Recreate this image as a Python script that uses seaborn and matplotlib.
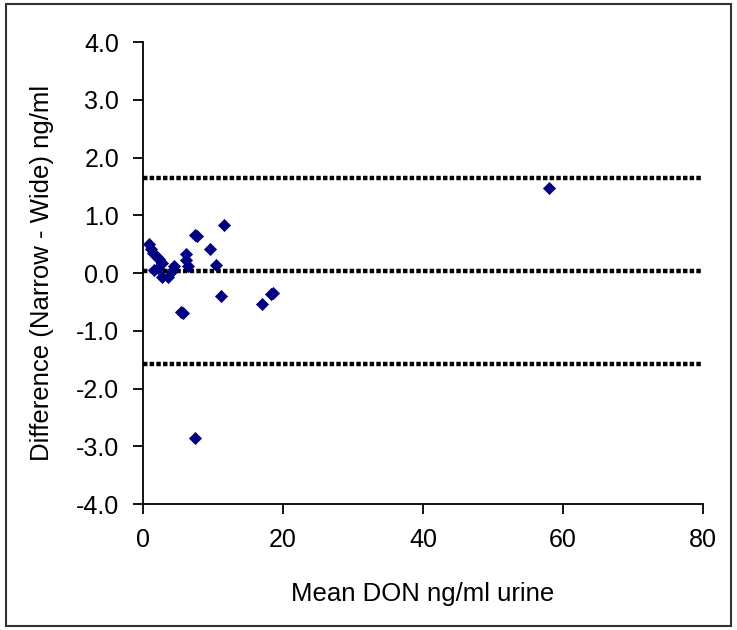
import matplotlib
matplotlib.use('Agg')
import matplotlib.pyplot as plt
import matplotlib.patches as patches
import seaborn as sns
import pandas as pd

sns.set_style('ticks')
plt.rcParams['font.family'] = ['Liberation Sans', 'DejaVu Sans']
plt.rcParams['text.color'] = 'black'
plt.rcParams['axes.labelcolor'] = 'black'
plt.rcParams['xtick.color'] = 'black'
plt.rcParams['ytick.color'] = 'black'

# Bland-Altman data
mean_don = [0.9, 1.1, 1.4, 2.0, 2.3, 2.7, 1.6, 2.2, 2.7, 3.6, 4.2, 4.5,
            6.1, 6.2, 6.4, 7.4, 7.7, 5.5, 5.7, 9.6, 10.4, 11.6, 11.2,
            17.0, 18.6, 18.3, 7.4, 58.0]
difference = [0.51, 0.41, 0.34, 0.28, 0.24, 0.17, 0.06, 0.08, -0.06, -0.06,
              0.04, 0.12, 0.33, 0.22, 0.12, 0.66, 0.64, -0.67, -0.69, 0.41,
              0.14, 0.83, -0.40, -0.54, -0.34, -0.37, -2.86, 1.47]
mean_diff = 0.04
upper_loa = 1.65
lower_loa = -1.57

x_ticks = [0, 20, 40, 60, 80]
y_ticks = [-4, -3, -2, -1, 0, 1, 2, 3, 4]

df = pd.DataFrame({'Mean DON': mean_don, 'Difference': difference})

fig = plt.figure(figsize=(7.37, 6.3), dpi=100)
ax = fig.add_axes([0.194, 0.2, 0.76, 0.733])

for level in (upper_loa, mean_diff, lower_loa):
    ax.axhline(level, color='black', lw=3.2, linestyle=(0, (1.0, 0.5)), zorder=1)

sns.scatterplot(data=df, x='Mean DON', y='Difference', marker='D', s=38,
                color='#000080', edgecolor='#000080', linewidth=0.5,
                ax=ax, zorder=3)

ax.set_xlim(0, 80)
ax.set_ylim(-4, 4)
ax.set_xticks(x_ticks)
ax.set_yticks(y_ticks)
ax.set_yticklabels([f'{v:.1f}' for v in y_ticks])
ax.tick_params(labelsize=18, length=7, width=1.3, color='black',
               labelcolor='black', pad=10)

ax.set_xlabel('Mean DON ng/ml urine', fontsize=18.5, labelpad=22)
ax.set_ylabel('Difference (Narrow - Wide) ng/ml', fontsize=18.5, labelpad=16)

for side in ('top', 'right'):
    ax.spines[side].set_visible(False)
for side in ('left', 'bottom'):
    ax.spines[side].set_linewidth(1.3)
    ax.spines[side].set_color('black')

fig.patches.append(patches.Rectangle(
    (0.008, 0.006), 0.984, 0.988, transform=fig.transFigure,
    fill=False, edgecolor='#333333', lw=1.5))

fig.savefig('out.png', dpi=100)
